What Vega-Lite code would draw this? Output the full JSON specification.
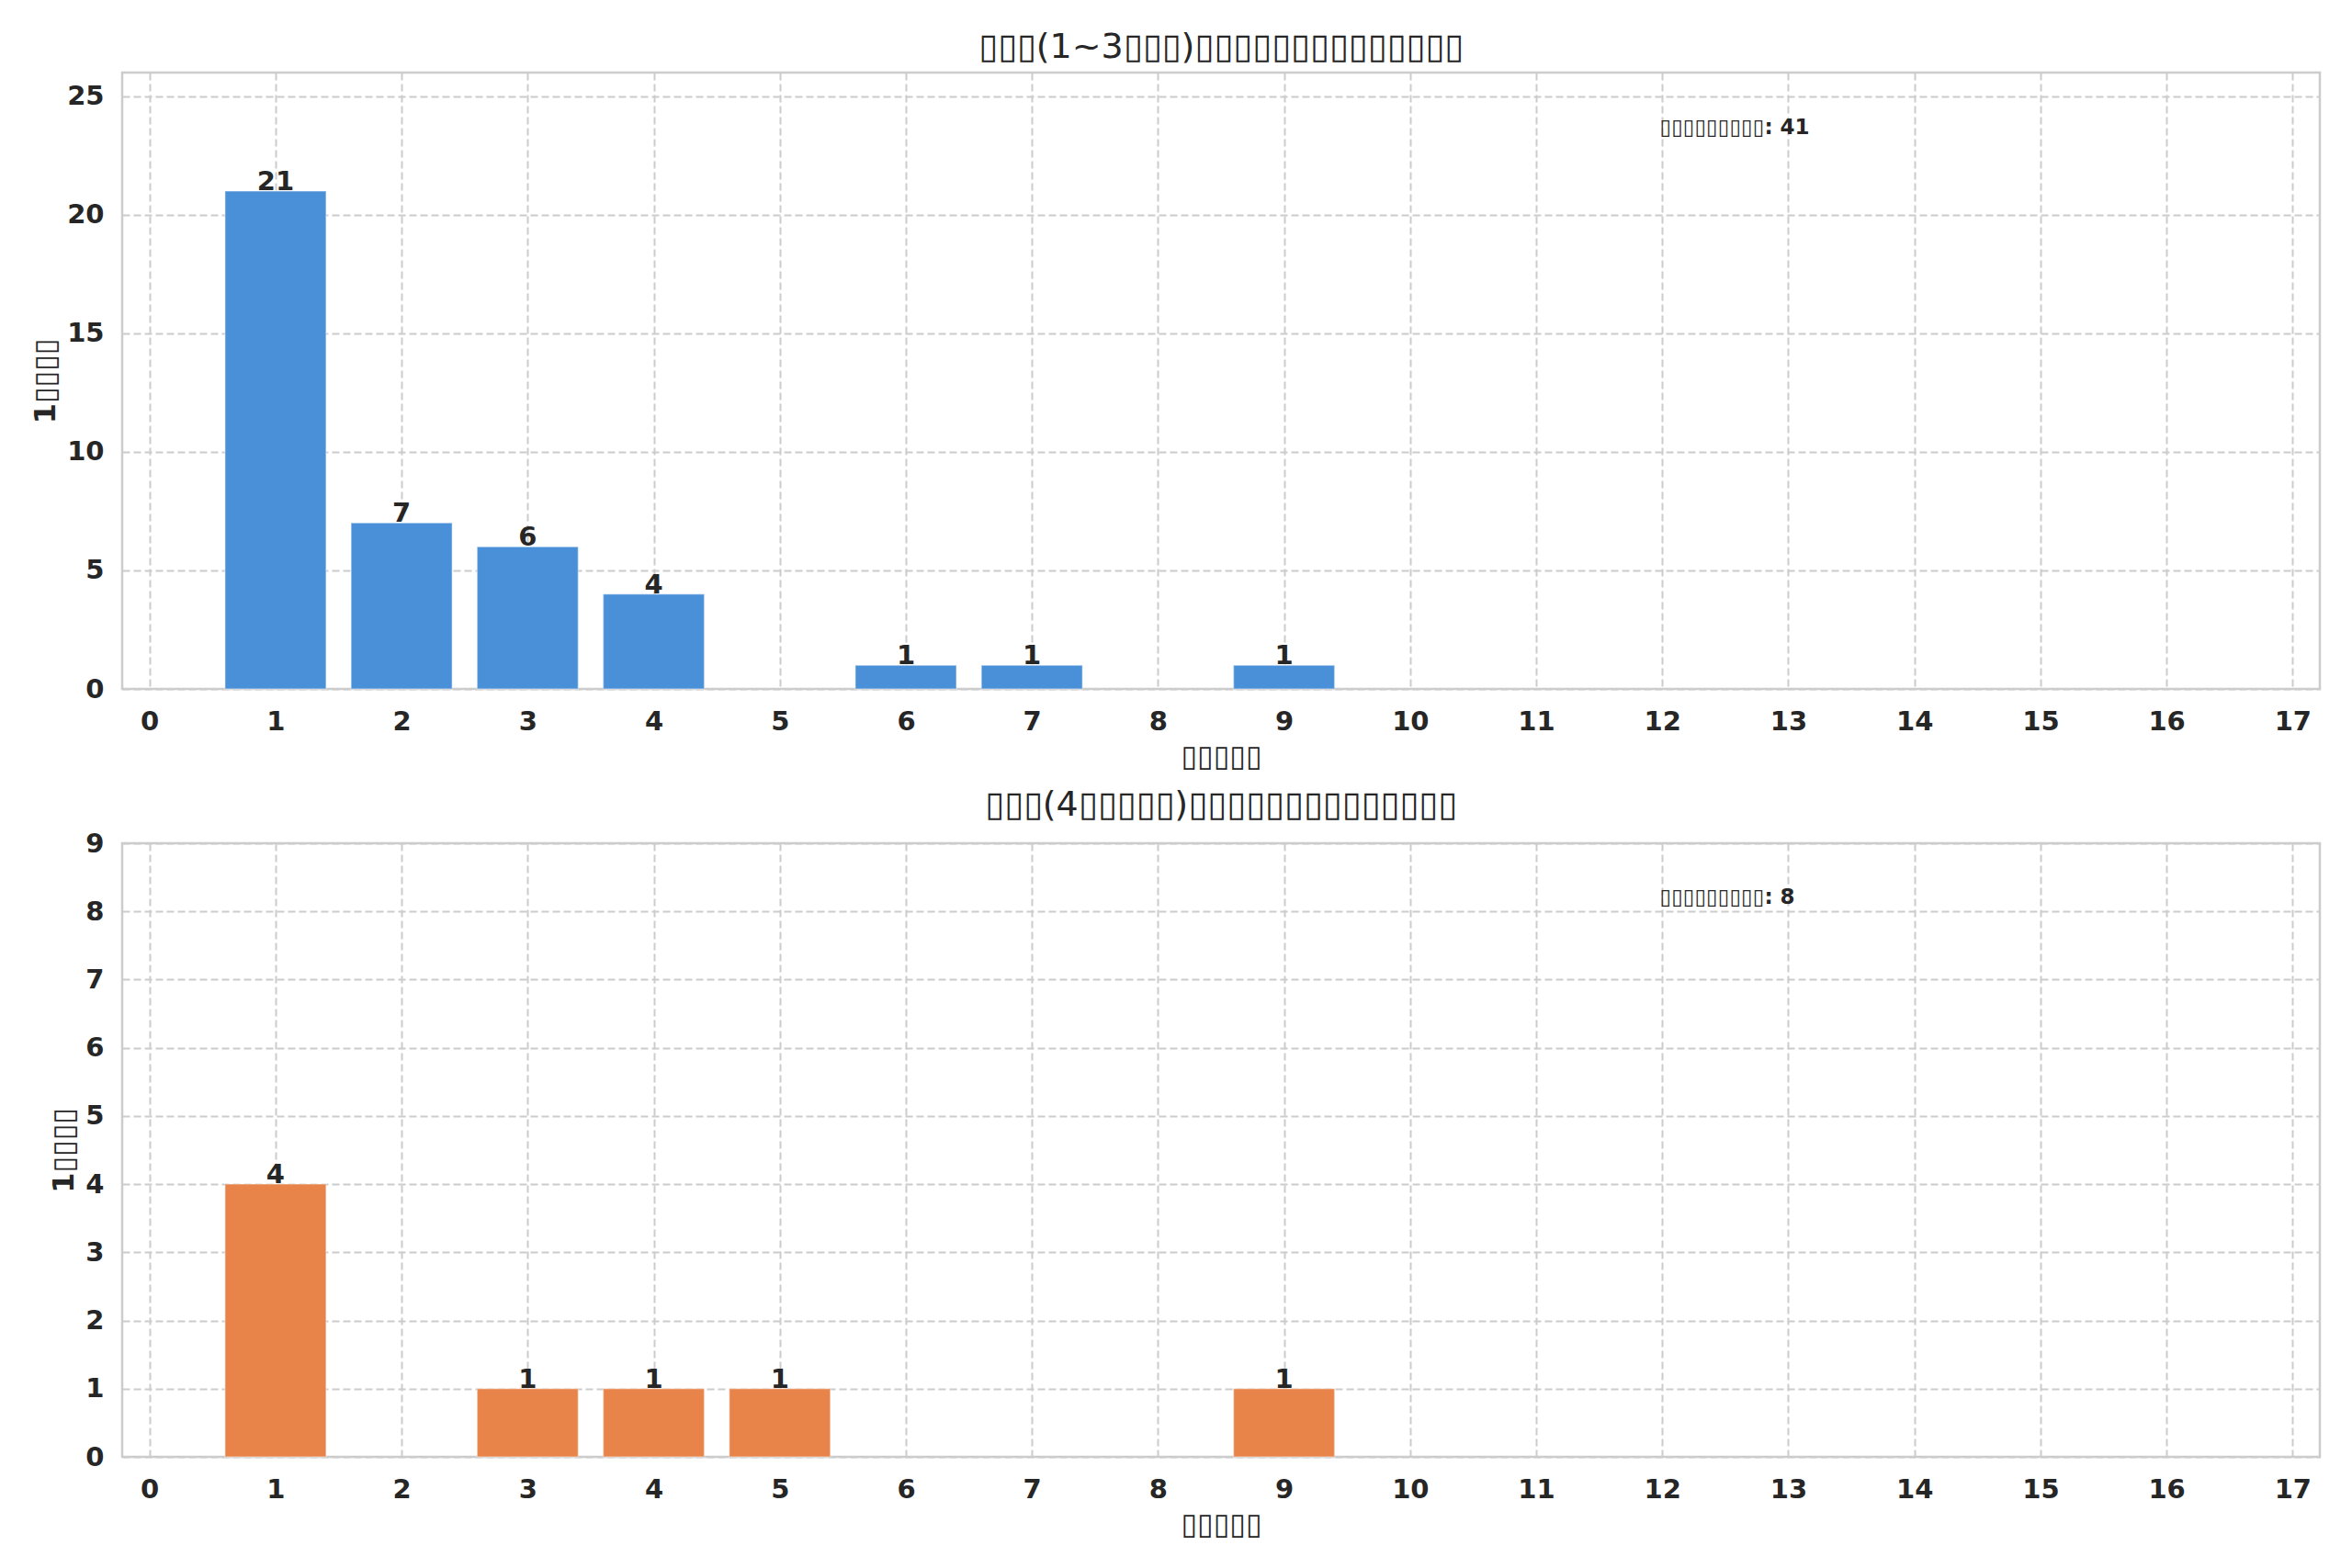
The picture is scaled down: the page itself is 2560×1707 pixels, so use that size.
{
  "$schema": "https://vega.github.io/schema/vega-lite/v6.json",
  "background": "white",
  "padding": {"left": 32, "top": 31, "right": 33, "bottom": 30},
  "datasets": {
    "first": [
      {"visits": 1, "count": 21},
      {"visits": 2, "count": 7},
      {"visits": 3, "count": 6},
      {"visits": 4, "count": 4},
      {"visits": 6, "count": 1},
      {"visits": 7, "count": 1},
      {"visits": 9, "count": 1}
    ],
    "repeat": [
      {"visits": 1, "count": 4},
      {"visits": 3, "count": 1},
      {"visits": 4, "count": 1},
      {"visits": 5, "count": 1},
      {"visits": 9, "count": 1}
    ]
  },
  "spacing": 168,
  "bounds": "flush",
  "vconcat": [
    {
      "width": 2392,
      "height": 671,
      "title": {"text": "▯▯▯(1~3▯▯▯)▯▯▯▯▯▯▯▯▯▯▯▯▯▯"},
      "layer": [
        {
          "data": {"name": "first"},
          "mark": {"type": "bar", "width": 110, "color": "#4A90D9", "stroke": "#ffffff", "strokeOpacity": 0.35, "strokeWidth": 1.5},
          "encoding": {
            "x": {
              "field": "visits",
              "type": "quantitative",
              "scale": {"domain": [-0.18, 17.18], "nice": false, "zero": false},
              "axis": {"values": [0,1,2,3,4,5,6,7,8,9,10,11,12,13,14,15,16,17], "format": "d", "title": "▯▯▯▯▯"}
            },
            "y": {
              "field": "count",
              "type": "quantitative",
              "scale": {"domain": [0, 26], "nice": false},
              "axis": {"values": [0,5,10,15,20,25], "format": "d", "title": "1▯▯▯▯"}
            }
          }
        },
        {
          "data": {"name": "first"},
          "mark": {"type": "text", "baseline": "alphabetic", "dy": -1, "fontSize": 29, "fontWeight": "bold", "color": "#262626"},
          "encoding": {
            "x": {"field": "visits", "type": "quantitative"},
            "y": {"field": "count", "type": "quantitative"},
            "text": {"field": "count"}
          }
        },
        {
          "data": {"values": [{"label": "▯▯▯▯▯▯▯▯▯: 41"}]},
          "mark": {"type": "text", "align": "left", "baseline": "middle", "fontSize": 23, "fontWeight": "bold", "color": "#262626"},
          "encoding": {
            "x": {"datum": 11.98, "type": "quantitative"},
            "y": {"datum": 23.67, "type": "quantitative"},
            "text": {"field": "label"}
          }
        }
      ]
    },
    {
      "width": 2392,
      "height": 668,
      "title": {"text": "▯▯▯(4▯▯▯▯▯)▯▯▯▯▯▯▯▯▯▯▯▯▯▯"},
      "layer": [
        {
          "data": {"name": "repeat"},
          "mark": {"type": "bar", "width": 110, "color": "#E8844A", "stroke": "#ffffff", "strokeOpacity": 0.35, "strokeWidth": 1.5},
          "encoding": {
            "x": {
              "field": "visits",
              "type": "quantitative",
              "scale": {"domain": [-0.18, 17.18], "nice": false, "zero": false},
              "axis": {"values": [0,1,2,3,4,5,6,7,8,9,10,11,12,13,14,15,16,17], "format": "d", "title": "▯▯▯▯▯"}
            },
            "y": {
              "field": "count",
              "type": "quantitative",
              "scale": {"domain": [0, 9], "nice": false},
              "axis": {"values": [0,1,2,3,4,5,6,7,8,9], "format": "d", "title": "1▯▯▯▯"}
            }
          }
        },
        {
          "data": {"name": "repeat"},
          "mark": {"type": "text", "baseline": "alphabetic", "dy": -1, "fontSize": 29, "fontWeight": "bold", "color": "#262626"},
          "encoding": {
            "x": {"field": "visits", "type": "quantitative"},
            "y": {"field": "count", "type": "quantitative"},
            "text": {"field": "count"}
          }
        },
        {
          "data": {"values": [{"label": "▯▯▯▯▯▯▯▯▯: 8"}]},
          "mark": {"type": "text", "align": "left", "baseline": "middle", "fontSize": 23, "fontWeight": "bold", "color": "#262626"},
          "encoding": {
            "x": {"datum": 11.98, "type": "quantitative"},
            "y": {"datum": 8.21, "type": "quantitative"},
            "text": {"field": "label"}
          }
        }
      ]
    }
  ],
  "config": {
    "font": "DejaVu Sans",
    "view": {"stroke": "#cccccc", "strokeWidth": 2.5},
    "title": {"font": "DejaVu Sans", "fontSize": 38, "fontWeight": "normal", "color": "#262626", "offset": 8, "anchor": "middle"},
    "axis": {
      "grid": true,
      "gridColor": "#cccccc",
      "gridDash": [8, 4],
      "gridWidth": 2,
      "domain": false,
      "ticks": false,
      "labelFont": "DejaVu Sans",
      "labelFontSize": 29,
      "labelFontWeight": "bold",
      "labelColor": "#262626",
      "labelPadding": 21,
      "titleFont": "DejaVu Sans",
      "titleFontSize": 32,
      "titleFontWeight": "bold",
      "titleColor": "#262626",
      "titlePadding": 8
    },
    "axisY": {"labelPadding": 20, "titlePadding": 6}
  }
}
